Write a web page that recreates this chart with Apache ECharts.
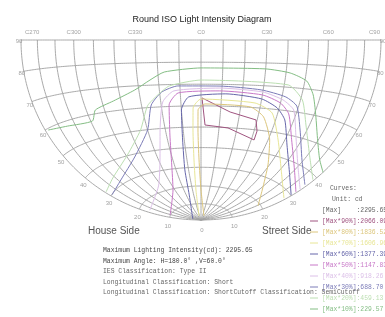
<!DOCTYPE html>
<html>
<head>
<meta charset="utf-8">
<script src="https://cdn.jsdelivr.net/npm/echarts@6/dist/echarts.min.js"></script>
<style>
html, body { margin: 0; padding: 0; background: #fff; }
#main { width: 385px; height: 317px; }
</style>
</head>
<body>
<div id="main"></div>
<script>
// C planes (C270..C90 written as -90..90) and gamma circles of the grid
var cPlanes = [-90, -80, -70, -60, -50, -40, -30, -20, -10, 0, 10, 20, 30, 40, 50, 60, 70, 80, 90];
var gammaCircles = [10, 20, 30, 40, 50, 60, 70, 80, 90];
var cLabelValues = [-90, -60, -30, 0, 30, 60, 90];
var cLabels = ['C270', 'C300', 'C330', 'C0', 'C30', 'C60', 'C90'];
var gammaLabels = [90, 80, 70, 60, 50, 40, 30, 20, 10];

// iso curves, each point is [C, gamma]
var iso10 = [[-88, 59.5], [-75, 58.1], [-59, 57.4], [-55, 61.5], [-44, 64.2], [-32, 68.2], [-24, 72.3], [-17, 75.7], [0, 77.4], [30, 77.4], [42, 76.1], [51, 73.2], [56, 67.9], [61, 60.3], [70, 50.9], [80, 45.2], [90, 42.7]];
var iso20 = [[-89, 32], [-72, 33.9], [-49, 40.3], [-34, 50.2], [-27, 60.8], [-21, 65.5], [-15, 69.4], [0, 71.9], [42, 71], [51, 65.3], [58, 55.5], [71, 45], [89, 38.7]];
var iso30 = [[-88, 29.9], [-68, 31.7], [-45, 38.7], [-30, 49.9], [-25, 61.1], [-19, 66.7], [-11, 69.3], [9, 69.2], [29, 68.1], [42, 65.8], [49, 62.5], [56, 53], [69, 42], [88, 35.7]];
var iso40 = [[-85, 16.8], [-43, 23.1], [-29, 35.2], [-23, 49.3], [-19, 62.2], [-13, 67.1], [9, 68.3], [30, 67.2], [41, 64.4], [48, 60.7], [55, 50.6], [69, 39.7], [89, 33.6]];
var iso50 = [[-82, 10.1], [-32, 19.4], [-22, 32], [-18, 46.6], [-16, 60.7], [-11, 66.1], [9, 67], [30, 65.9], [40, 63], [46, 58.8], [54, 48.3], [70, 37.4], [89, 32]];
var iso60 = [[-78, 2.7], [-16, 15.4], [-13, 28.9], [-11, 43.9], [-10, 58.2], [-6, 64.2], [12, 65.7], [30, 64.1], [39, 60.7], [45, 56], [53, 45.7], [68, 35.8], [89, 30.2]];
var iso70 = [[-14, 2.6], [-6, 17.8], [-5, 33.8], [-4.5, 48.6], [-4, 59], [0, 63.2], [27, 62.1], [37, 58.3], [46, 47], [61, 35.2], [88, 27.7]];
var iso80 = [[21, 2.7], [0, 17.8], [-1.4, 33.8], [-1.7, 48.6], [-1.5, 58.1], [2, 60.9], [25, 60.2], [33, 56.2], [41, 46.3], [49, 35.4], [63, 24.6], [81, 19.2]];
var iso90 = [[0.5, 63.7], [15, 57.4], [29.4, 54.5], [31.7, 49.5], [31.7, 45.3], [15, 49.9], [2.2, 51], [0.5, 63.7]];

var maxIntensity = '2295.65';
var levelNames = ['[Max*90%]', '[Max*80%]', '[Max*70%]', '[Max*60%]', '[Max*50%]', '[Max*40%]', '[Max*30%]', '[Max*20%]', '[Max*10%]'];
var levelValues = ['2066.09', '1836.52', '1606.96', '1377.39', '1147.83', '918.26', '688.70', '459.13', '229.57'];
var levelColors = ['#a05480', '#dcc67c', '#e8e696', '#6666aa', '#c878c8', '#dcc0e8', '#7c7cb8', '#bcdfb2', '#84be84'];
var levelCurves = [iso90, iso80, iso70, iso60, iso50, iso40, iso30, iso20, iso10];

var infoLines = [
    'Maximum Lighting Intensity(cd): ' + maxIntensity,
    'Maximum Angle: H=180.0\u00b0 ,V=60.0\u00b0',
    'IES Classification: Type II',
    'Longitudinal Classification: Short',
    'Longitudinal Classification: ShortCutoff Classification: SemiCutoff'
];

var myChart = echarts.init(document.getElementById('main'));

// equal-area view of the lower quarter sphere, centred on the C0 horizon point
var DEG = Math.PI / 180;
function project(c, g) {
    var X = Math.sin(g * DEG) * Math.sin(c * DEG);
    var Y = -Math.cos(g * DEG);
    var Z = Math.sin(g * DEG) * Math.cos(c * DEG);
    var k = 1 / Math.sqrt(1 + Z);
    return [X * k, Y * k];
}

var gridLines = [];
cPlanes.forEach(function (c) {
    var pts = [];
    for (var g = 0; g <= 90; g += 1) pts.push(project(c, g));
    gridLines.push({ coords: pts });
});
gammaCircles.forEach(function (g) {
    var pts = [];
    for (var c = -90; c <= 90; c += 1) pts.push(project(c, g));
    gridLines.push({ coords: pts });
});

var tinyLabel = { show: true, position: 'inside', fontSize: 6, color: '#8a8a8a', fontFamily: 'Liberation Sans' };

var cLabelData = cLabelValues.map(function (c, i) {
    var p = project(c, 90);
    var lab = { formatter: cLabels[i], offset: [0, -8], align: 'center' };
    if (i === 0) { lab.align = 'left'; lab.offset = [4, -8]; }
    if (i === cLabelValues.length - 1) { lab.align = 'right'; lab.offset = [-1, -8]; }
    return { value: p, label: lab };
});

var gammaLabelData = [];
gammaLabels.forEach(function (g) {
    [-1, 1].forEach(function (side) {
        gammaLabelData.push({
            value: project(90 * side, g),
            label: { formatter: String(g), offset: [2 * side, 8 * Math.cos(g * DEG) + 1] }
        });
    });
});
gammaLabelData.push({ value: project(0, 0), label: { formatter: '0', offset: [1, 10] } });

var series = [{
    type: 'lines',
    coordinateSystem: 'cartesian2d',
    polyline: true,
    silent: true,
    data: gridLines,
    lineStyle: { color: '#a0a0a0', width: 0.9, opacity: 1 },
    z: 1
}];

levelCurves.forEach(function (curve, i) {
    series.push({
        name: levelNames[i],
        type: 'line',
        data: curve.map(function (p) { return project(p[0], p[1]); }),
        symbol: 'none',
        smooth: i === 0 ? false : 0.2,
        lineStyle: { color: levelColors[i], width: 1 },
        z: 3
    });
});

series.push({
    type: 'scatter',
    data: cLabelData,
    symbolSize: 1,
    itemStyle: { color: 'rgba(0,0,0,0)' },
    label: tinyLabel,
    z: 4
});
series.push({
    type: 'scatter',
    data: gammaLabelData,
    symbolSize: 1,
    itemStyle: { color: 'rgba(0,0,0,0)' },
    label: tinyLabel,
    z: 4
});

var mono = '6.4px "Liberation Mono"';
var graphics = [
    { type: 'text', x: 202, y: 20, style: { text: 'Round ISO Light Intensity Diagram', font: '9px "Liberation Sans"', fill: '#222', textAlign: 'center', textVerticalAlign: 'middle' } },
    { type: 'text', x: 88, y: 231, style: { text: 'House Side', font: '10px "Liberation Sans"', fill: '#555', textVerticalAlign: 'middle' } },
    { type: 'text', x: 262, y: 231, style: { text: 'Street Side', font: '10px "Liberation Sans"', fill: '#555', textVerticalAlign: 'middle' } },
    { type: 'text', x: 330, y: 188, style: { text: 'Curves:', font: mono, fill: '#666', textVerticalAlign: 'middle' } },
    { type: 'text', x: 332, y: 199, style: { text: 'Unit: cd', font: mono, fill: '#666', textVerticalAlign: 'middle' } },
    { type: 'text', x: 322, y: 210, style: { text: '[Max]    :' + maxIntensity, font: mono, fill: '#666', textVerticalAlign: 'middle' } }
];
levelNames.forEach(function (n, i) {
    var y = 221 + 11 * i;
    graphics.push({ type: 'line', shape: { x1: 310, y1: y, x2: 318, y2: y }, style: { stroke: levelColors[i], lineWidth: 1 } });
    graphics.push({ type: 'text', x: 322, y: y, style: { text: n + ':' + levelValues[i], font: mono, fill: levelColors[i], textVerticalAlign: 'middle' } });
});
var infoY = [250, 261, 271.5, 282, 292.5];
infoLines.forEach(function (t, i) {
    graphics.push({ type: 'text', x: 103, y: infoY[i], style: { text: t, font: mono, fill: i < 2 ? '#444' : '#666', textVerticalAlign: 'middle' } });
});

option = {
    animation: false,
    backgroundColor: '#fff',
    grid: { left: 0, right: 0, top: 0, bottom: 0 },
    xAxis: { type: 'value', min: -201 / 180, max: 184 / 180, show: false },
    yAxis: { type: 'value', min: -277 / 180, max: 40 / 180, show: false },
    graphic: graphics,
    series: series
};

myChart.setOption(option);
window.addEventListener('resize', function () {
    myChart.resize();
});
</script>
</body>
</html>
